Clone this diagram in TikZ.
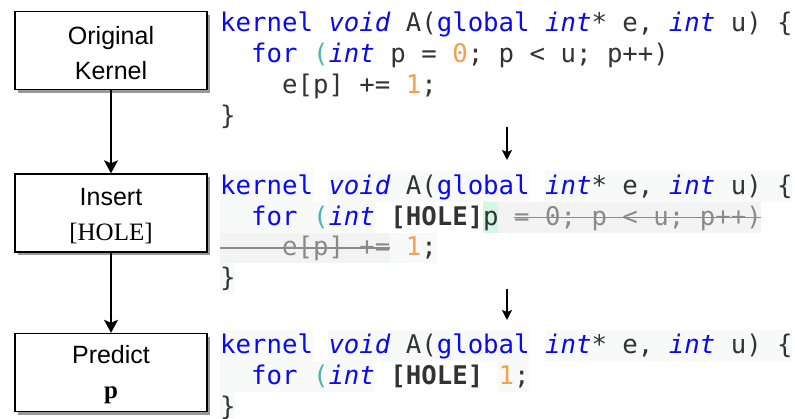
\documentclass[tikz,border=0pt]{standalone}
\usepackage{fontspec}
\usetikzlibrary{arrows.meta,shadows}
\setmainfont{Liberation Serif}
\newfontfamily\boxsans{Liberation Sans}
\newfontfamily\codefont{DejaVu Sans Mono}
\definecolor{kwblue}{HTML}{0A0AF0}
\definecolor{parteal}{HTML}{4DB6AC}
\definecolor{numorange}{HTML}{F5A04A}
\definecolor{codetext}{HTML}{333333}
\definecolor{strikegray}{HTML}{8A8A8A}
\definecolor{strikebg}{HTML}{F3F3F3}
\definecolor{faintbg}{HTML}{F8FAFA}
\definecolor{holegreen}{HTML}{D2F7E6}
\newcommand\kw[1]{\textcolor{kwblue}{#1}}
\newcommand\ty[1]{\textcolor{kwblue}{\itshape #1}}
\newcommand\nm[1]{\textcolor{numorange}{#1}}
\newcommand\pa[1]{\textcolor{parteal}{#1}}
\newcommand\sk[1]{\textcolor{strikegray}{#1}}
\newcommand\hl[1]{\textbf{#1}}
% background segment: color, col1, col2, row top
\newcommand\segbg[4]{\fill[#1] ({220+#2*15.47},#4) rectangle ({220+#3*15.47},{#4+30.5});}
\newcommand\strike[3]{\draw[strikeline] ({220+#1*15.47},{#3-7.5}) -- ({220+#2*15.47},{#3-7.5});}
\begin{document}
\begin{tikzpicture}[x=1pt,y=-1pt,
  box/.style={draw=black,line width=1.4pt,fill=white,minimum width=192pt,minimum height=78pt,
    inner sep=0pt,
    drop shadow={shadow xshift=3pt,shadow yshift=-3pt,fill=black!40,opacity=1}},
  boxtext/.style={inner sep=0pt,align=center,font=\boxsans\fontsize{25}{35}\selectfont},
  flow/.style={line width=1.4pt,-{Stealth[length=13pt,width=14pt,inset=3pt]}},
  step arrow/.style={line width=1.4pt,-{Stealth[length=10pt,width=10pt,inset=2pt]}},
  codeline/.style={anchor=base west,inner sep=0pt,text=codetext,
    font=\codefont\fontsize{25.7}{30}\selectfont\frenchspacing},
  strikeline/.style={draw=strikegray,line width=1.3pt}]
\useasboundingbox (0,0) rectangle (795,418);

% left flow boxes
\node[box] (orig) at (111,50.5) {};
\node[box] (insert) at (111,213) {};
\node[box] (predict) at (111,372.5) {};
\node[boxtext] (origtext) at ([yshift=-2.5pt]orig.center) {Original\\Kernel};
\node[boxtext] (inserttext) at ([yshift=-3pt]insert.center) {Insert\\{\rmfamily [HOLE]}};
\node[boxtext] (predicttext) at ([yshift=-2.5pt]predict.center) {Predict\\{\rmfamily\bfseries p}};
\draw[flow] (orig.south) -- (insert.north);
\draw[flow] (insert.south) -- (predict.north);

% block 1
\node[codeline] (a1) at (220,31) {\kw{kernel}~\ty{void}~A(\kw{global}~\ty{int}*~e,~\ty{int}~u)~\{};
\node[codeline] (a2) at (220,62) {~~\kw{for}~\pa{(}\ty{int}~p~=~\nm{0};~p~<~u;~p++)};
\node[codeline] (a3) at (220,93) {~~~~e[p]~+=~\nm{1};};
\node[codeline] (a4) at (220,124) {\}};

\coordinate (s1) at (507,127);
\coordinate (e1) at (507,160);
\draw[step arrow] (s1) -- (e1);

% block 2 backgrounds
\segbg{faintbg}{0}{6}{171}
\segbg{faintbg}{7}{20}{171}
\segbg{faintbg}{21}{37}{171}
\segbg{faintbg}{0}{10}{202}
\segbg{holegreen}{17}{18}{202}
\segbg{strikebg}{18}{35}{202}
\segbg{strikebg}{0}{11}{232.5}
\segbg{faintbg}{11}{14}{232.5}
\segbg{faintbg}{0}{1}{263}

\node[codeline] (b1) at (220,194) {\kw{kernel}~\ty{void}~A(\kw{global}~\ty{int}*~e,~\ty{int}~u)~\{};
\node[codeline] (b2) at (220,225) {~~\kw{for}~\pa{(}\ty{int}~\hl{[HOLE]}p~\sk{=~0;~p~<~u;~p++)}};
\node[codeline] (b3) at (220,255.5) {\sk{~~~~e[p]~+=}~\nm{1};};
\node[codeline] (b4) at (220,286) {\}};
\strike{19}{35}{225}
\strike{0}{11}{255.5}

\coordinate (s2) at (507,289);
\coordinate (e2) at (507,320);
\draw[step arrow] (s2) -- (e2);

% block 3 backgrounds
\segbg{faintbg}{0}{6}{330}
\segbg{faintbg}{7}{20}{330}
\segbg{faintbg}{21}{37}{330}
\segbg{faintbg}{0}{10}{361}
\segbg{faintbg}{18}{20}{361}
\segbg{faintbg}{0}{1}{392}

\node[codeline] (c1) at (220,353) {\kw{kernel}~\ty{void}~A(\kw{global}~\ty{int}*~e,~\ty{int}~u)~\{};
\node[codeline] (c2) at (220,384) {~~\kw{for}~\pa{(}\ty{int}~\hl{[HOLE]}~\nm{1};};
\node[codeline] (c3) at (220,415) {\}};
\end{tikzpicture}
\end{document}
